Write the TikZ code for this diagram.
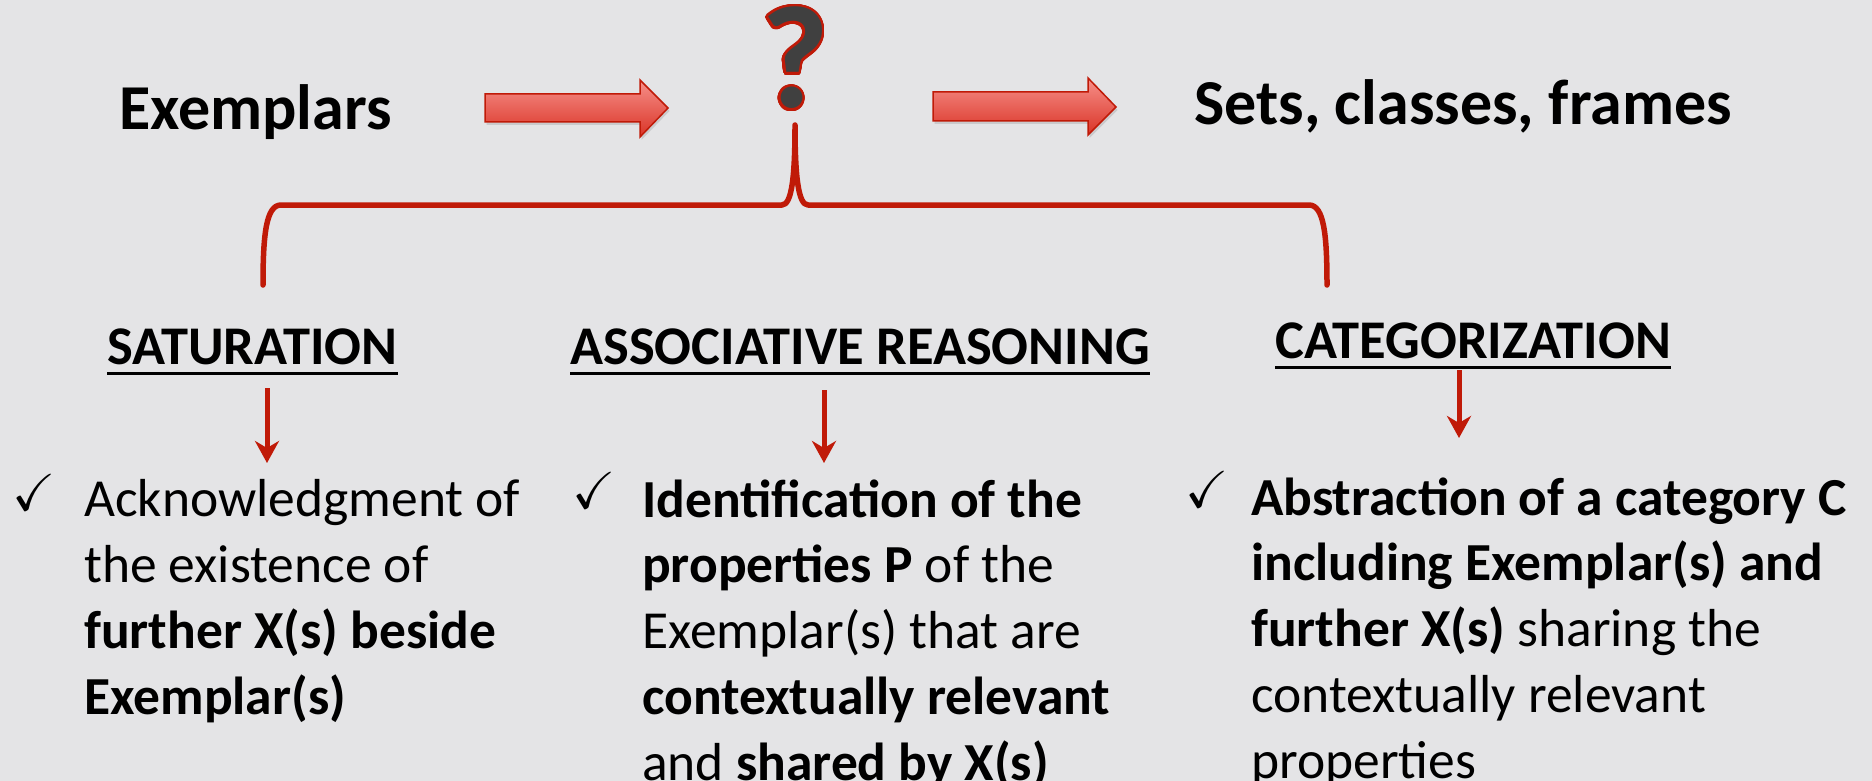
\documentclass[tikz,border=0pt]{standalone}
\usepackage{fontspec}
\setmainfont{Carlito}
\usepackage{amssymb}
\usepackage{contour}
\usetikzlibrary{arrows.meta,shadows}

\definecolor{bgcol}{HTML}{E4E4E6}
\definecolor{bracered}{HTML}{C01A08}
\definecolor{arrowtop}{HTML}{F6908A}
\definecolor{arrowbot}{HTML}{DA3326}
\definecolor{qgray}{HTML}{404040}

\contourlength{2.5pt}
\contournumber{32}

\begin{document}
\begin{tikzpicture}[x=1pt,y=-1pt]
    \tikzstyle{bigword} = [font=\fontsize{64}{77}\selectfont\bfseries, inner sep=0pt, anchor=base west]
    \tikzstyle{heading} = [font=\fontsize{54.5}{66}\selectfont\bfseries, inner sep=0pt, anchor=base west]
    \tikzstyle{coltext} = [font=\fontsize{53.5}{65.7}\selectfont, inner sep=0pt, anchor=base west, align=left]
    \tikzstyle{checkm} = [font=\fontsize{52}{60}\selectfont, inner sep=0pt, anchor=base west]
    \tikzstyle{blockarr} = [draw=bracered, line width=1.5pt, line join=miter, top color=arrowtop, bottom color=arrowbot, drop shadow={opacity=0.25, shadow xshift=1.5pt, shadow yshift=-3pt}]
    \tikzstyle{dnarr} = [bracered, line width=5pt, -{Stealth[length=22pt, width=24pt, inset=7pt]}]
    \tikzstyle{brc} = [bracered, line width=5.5pt, line cap=round, line join=round]
    \tikzstyle{uline} = [line width=3pt]
    \fill [bgcol] (0,0) rectangle (1872,781);
    \useasboundingbox (0,0) rectangle (1872,781);
    % top row
    \node [bigword] (exemplars) at (119,130) {Exemplars};
    \node [font=\fontsize{146}{150}\selectfont\bfseries, inner sep=0pt, anchor=base] (qmark) at (795,108) {\contour{bracered}{\textcolor{qgray}{?}}};
    \node [bigword] (sets) at (1194,125) {Sets, classes, frames};
    \path [blockarr] (485,94) -- (640,94) -- (640,80) -- (668,108) -- (640,137) -- (640,122) -- (485,122) -- cycle;
    \path [blockarr] (933,92) -- (1088,92) -- (1088,78) -- (1116,107) -- (1088,135) -- (1088,121) -- (933,121) -- cycle;
    % brace
    \draw [brc] (263,285) .. controls (263,235) and (266,205) .. (281,205) -- (782,205)
      .. controls (792,205) and (795,175) .. (795,125)
      .. controls (795,175) and (798,205) .. (808,205) -- (1309,205)
      .. controls (1324,205) and (1327,235) .. (1327,285);
    % headings
    \node [heading] (sat) at (107,364) {SATURATION};
    \node [heading] (assoc) at (570,364) {ASSOCIATIVE REASONING};
    \node [heading] (categ) at (1275,358) {CATEGORIZATION};
    \draw [uline] ([yshift=-9pt]sat.base west) -- ([yshift=-9pt]sat.base east);
    \draw [uline] ([yshift=-9pt]assoc.base west) -- ([yshift=-9pt]assoc.base east);
    \draw [uline] ([yshift=-9pt]categ.base west) -- ([yshift=-9pt]categ.base east);
    % down arrows
    \coordinate (satfrom) at (267,388);
    \coordinate (satto) at (267,463);
    \coordinate (assocfrom) at (824,390);
    \coordinate (assocto) at (824,463);
    \coordinate (categfrom) at (1459,370);
    \coordinate (categto) at (1459,438);
    \draw [dnarr] (satfrom) -- (satto);
    \draw [dnarr] (assocfrom) -- (assocto);
    \draw [dnarr] (categfrom) -- (categto);
    % columns (base = last line)
    \node [checkm] (satcheck) at (12,510) {$\checkmark$};
    \node [checkm] (assoccheck) at (572,508) {$\checkmark$};
    \node [checkm] (categcheck) at (1185,507) {$\checkmark$};
    \node [coltext] (sattext) at (84,714) {Acknowledgment of\\the existence of\\\textbf{further X(s) beside}\\\textbf{Exemplar(s)}};
    \node [coltext] (assoctext) at (642,780) {\textbf{Identification of the}\\\textbf{properties P} of the\\Exemplar(s) that are\\\textbf{contextually relevant}\\and \textbf{shared by X(s)}};
    \node [coltext] (categtext) at (1251,778) {\textbf{Abstraction of a category C}\\\textbf{including Exemplar(s) and}\\\textbf{further X(s)} sharing the\\contextually relevant\\properties};
  \end{tikzpicture}
\end{document}
